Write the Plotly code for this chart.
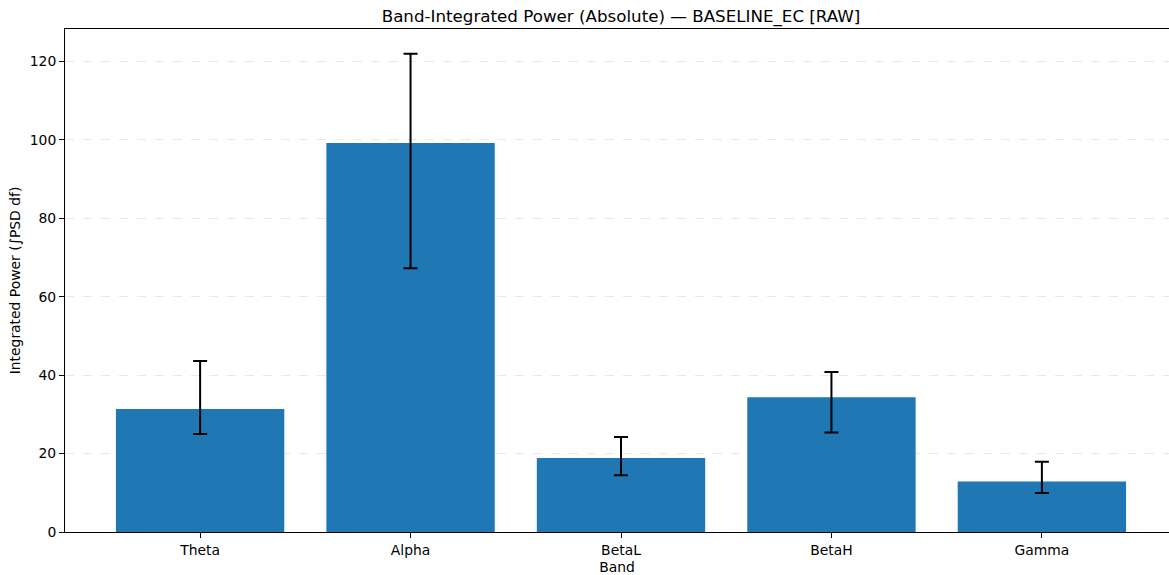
import plotly.graph_objects as go

# Band-integrated absolute power per EEG band, with asymmetric error limits
bands = ["Theta", "Alpha", "BetaL", "BetaH", "Gamma"]
power = [31.4, 99.2, 18.9, 34.4, 12.9]
err_upper = [43.6, 122.0, 24.2, 40.8, 17.9]
err_lower = [25.0, 67.3, 14.5, 25.4, 9.95]

plus = [u - v for u, v in zip(err_upper, power)]
minus = [v - l for v, l in zip(power, err_lower)]

font_family = "DejaVu Sans"

fig = go.Figure()
fig.add_trace(go.Bar(
    x=list(range(len(bands))),
    y=power,
    width=0.8,
    marker=dict(color="#1f77b4", line=dict(width=0)),
    error_y=dict(
        type="data",
        symmetric=False,
        array=plus,
        arrayminus=minus,
        color="black",
        thickness=2,
        width=7,
    ),
    showlegend=False,
))

fig.update_layout(
    width=1169,
    height=575,
    margin=dict(l=65, r=0, t=29, b=43),
    paper_bgcolor="white",
    plot_bgcolor="white",
    font=dict(family=font_family, size=14, color="black"),
    title=dict(
        text="Band-Integrated Power (Absolute) — BASELINE_EC [RAW]",
        x=(383 + 859) / 2 / 1169,
        xanchor="center",
        y=1 - 16 / 575,
        yanchor="middle",
        font=dict(family=font_family, size=16.7, color="black"),
    ),
    bargap=0.2,
)

fig.update_xaxes(
    range=[-0.642, 4.604],
    tickmode="array",
    tickvals=list(range(len(bands))),
    ticktext=bands,
    ticks="outside",
    ticklen=5,
    tickwidth=1,
    tickcolor="black",
    showline=True,
    linecolor="black",
    linewidth=1,
    mirror=True,
    showgrid=False,
    zeroline=False,
    tickfont=dict(family=font_family, size=13.9, color="black"),
    title=dict(text="Band", font=dict(family=font_family, size=13.9, color="black"), standoff=8),
)

fig.update_yaxes(
    range=[0, 128.3],
    tickmode="array",
    tickvals=[0, 20, 40, 60, 80, 100, 120],
    ticks="outside",
    ticklen=5,
    tickwidth=1,
    tickcolor="black",
    showline=True,
    linecolor="black",
    linewidth=1,
    mirror=False,
    showgrid=True,
    gridcolor="#e8e8e8",
    griddash="dash",
    gridwidth=1,
    zeroline=False,
    tickfont=dict(family=font_family, size=13.9, color="black"),
    title=dict(text="Integrated Power (∫PSD df)", font=dict(family=font_family, size=13.9, color="black"), standoff=5),
)

fig.write_html("out.html")
